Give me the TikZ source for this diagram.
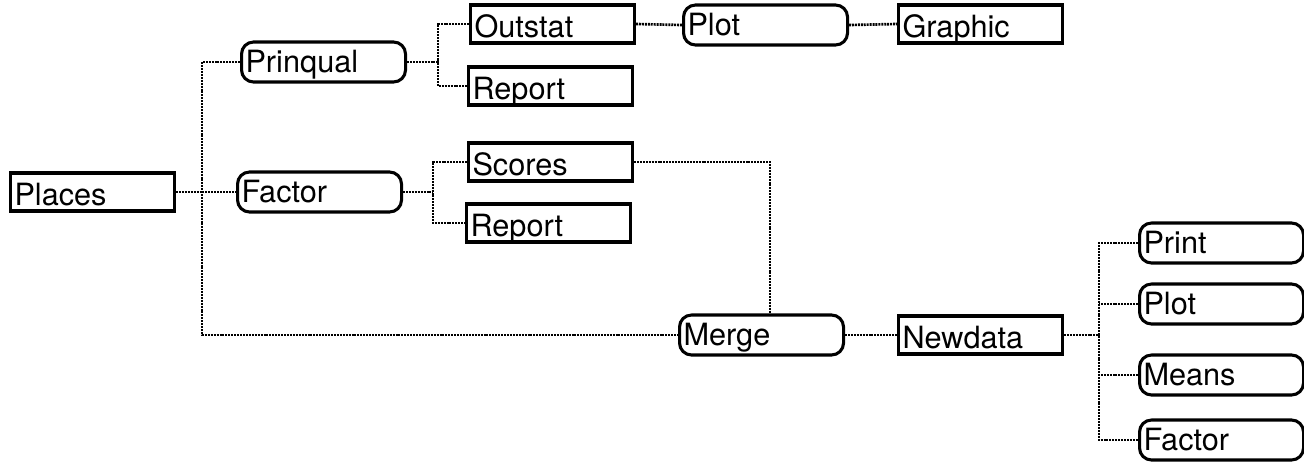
\documentclass[tikz,border=0pt]{standalone}
\usepackage{fontspec}
\setmainfont{TeX Gyre Heros}
\begin{document}
\begin{tikzpicture}[x=0.75pt,y=-0.75pt,
  base/.style={draw, line width=2.3pt, anchor=west, inner xsep=3pt, inner ysep=0pt,
    text width=117pt, align=left, font=\fontsize{23}{25}\selectfont},
  rect/.style={base, text height=24pt, text depth=4.5pt},
  rbox/.style={base, rounded corners=9pt, text height=22.5pt, text depth=7.5pt},
  conn/.style={line width=2pt, dash pattern=on 1.5pt off 0.7pt}]
\useasboundingbox (0,0) rectangle (1304,465);
% nodes
\node[rect] (places)   at (9,192)    {Places};
\node[rbox] (prinqual) at (240,62)   {Prinqual};
\node[rbox] (factor)   at (236,192)  {Factor};
\node[rect] (outstat)  at (469,24)   {Outstat};
\node[rect] (report1)  at (467,86)   {Report};
\node[rbox] (plot1)    at (682,25)   {Plot};
\node[rect] (graphic)  at (897,24)   {Graphic};
\node[rect] (scores)   at (467,162)  {Scores};
\node[rect] (report2)  at (465,223)  {Report};
\node[rbox] (merge)    at (678,335)  {Merge};
\node[rect] (newdata)  at (897,335)  {Newdata};
\node[rbox] (print)    at (1138,243) {Print};
\node[rbox] (plot2)    at (1138,304) {Plot};
\node[rbox] (means)    at (1138,375) {Means};
\node[rbox] (factor2)  at (1138,440) {Factor};
% junctions
\coordinate (j1) at (202,192);
\coordinate (j2) at (438,62);
\coordinate (j3) at (433,192);
\coordinate (k)  at (770,162);
\coordinate (j4) at (1099,335);
% connectors
\draw[conn] (places.east) -- (factor.west);
\draw[conn] (prinqual.west) -| (j1) |- (merge.west);
\draw[conn] (prinqual.east) -- (j2);
\draw[conn] (outstat.west) -| (j2) |- (report1.west);
\draw[conn] (outstat.east) -- (plot1.west);
\draw[conn] (plot1.east) -- (graphic.west);
\draw[conn] (factor.east) -- (j3);
\draw[conn] (scores.west) -| (j3) |- (report2.west);
\draw[conn] (scores.east) -- (k) -- (k |- merge.north);
\draw[conn] (merge.east) -- (newdata.west);
\draw[conn] (newdata.east) -- (j4);
\draw[conn] (print.west) -| (j4) |- (factor2.west);
\draw[conn] (plot2.west) -- (plot2.west -| j4);
\draw[conn] (means.west) -- (means.west -| j4);
\end{tikzpicture}
\end{document}
